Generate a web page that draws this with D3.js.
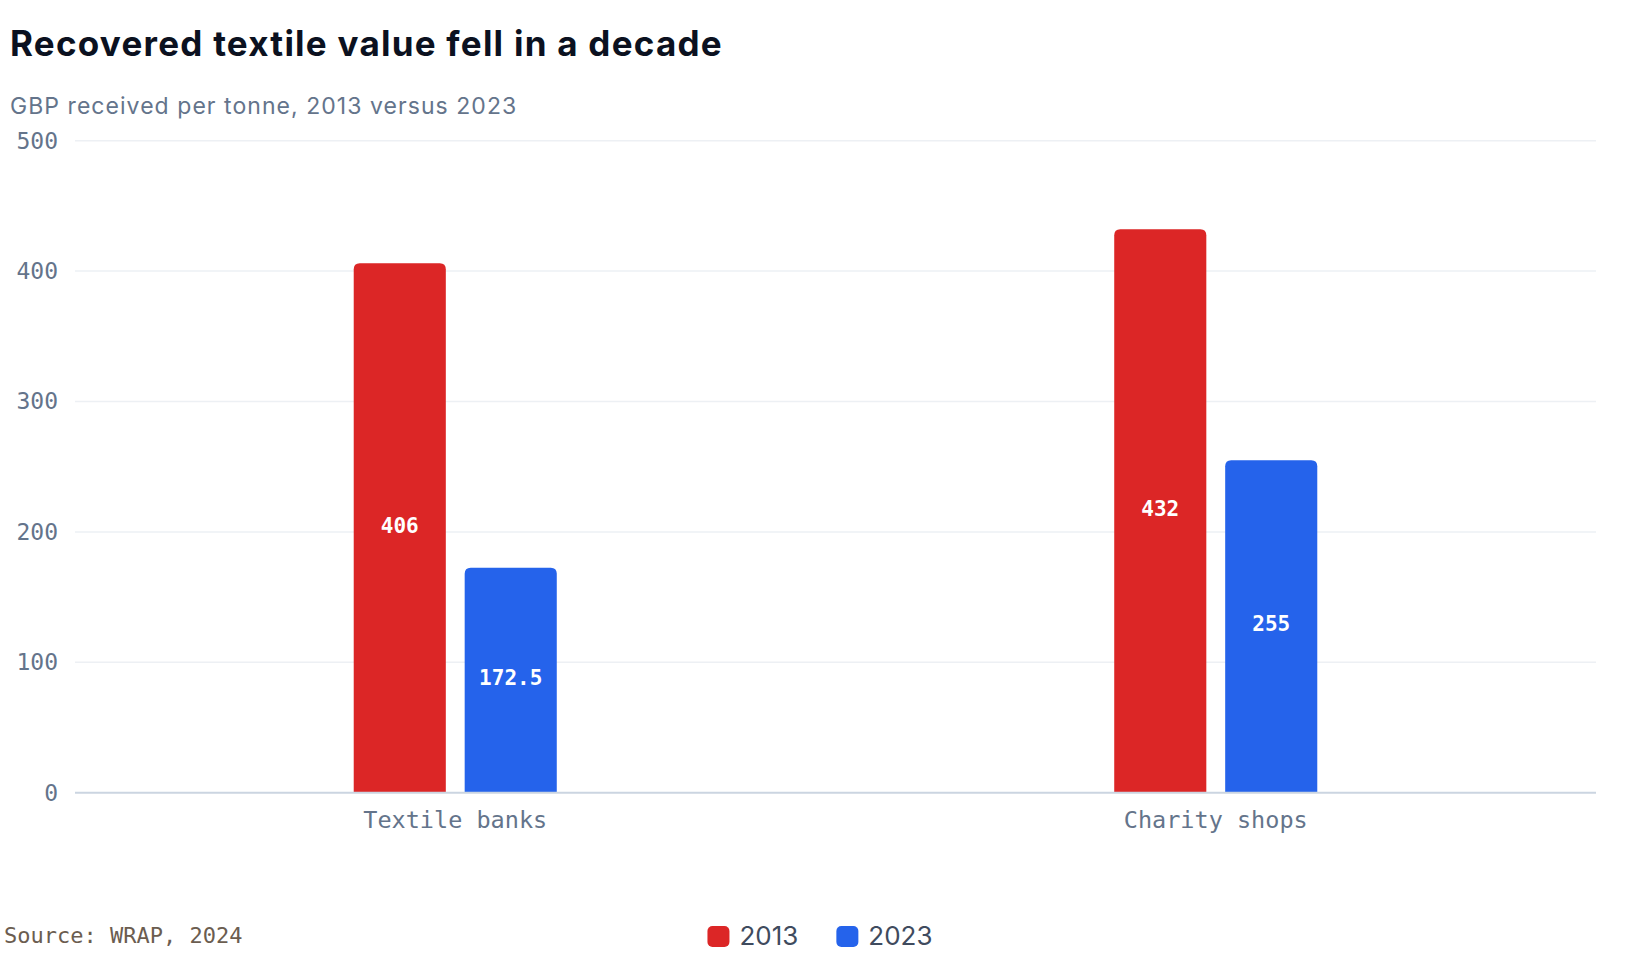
<!DOCTYPE html>
<html>
<head>
<meta charset="utf-8">
<script src="https://cdn.jsdelivr.net/npm/d3@7"></script>
<style>
  html, body { margin: 0; padding: 0; background: #ffffff; }
  svg { display: block; }
</style>
</head>
<body>
<svg id="chart" width="1640" height="960"></svg>
<script>
const categories = ["Textile banks", "Charity shops"];
const seriesNames = ["2013", "2023"];
const values2013 = [406, 432];
const values2023 = [172.5, 255];
const yTicks = [0, 100, 200, 300, 400, 500];
const colors = ["#dc2626", "#2563eb"];

const titleText = "Recovered textile value fell in a decade";
const subtitleText = "GBP received per tonne, 2013 versus 2023";
const sourceText = "Source: WRAP, 2024";

const W = 1640, H = 960;
const margin = { left: 75, right: 44, top: 140.7, bottom: 167.3 };
const svg = d3.select("#chart");

const seriesValues = [values2013, values2023];
const data = categories.map((c, i) => ({
  category: c,
  values: seriesNames.map((s, j) => ({ series: s, value: seriesValues[j][i], color: colors[j] }))
}));

const x0 = d3.scaleBand().domain(categories)
  .range([margin.left, W - margin.right]).paddingInner(0.733).paddingOuter(0.3665);
const x1 = d3.scaleBand().domain(seriesNames).range([0, x0.bandwidth()]).paddingInner(0.17);
const y = d3.scaleLinear().domain([0, 500]).range([H - margin.bottom, margin.top]);

// Title & subtitle
svg.append("text").attr("x", 10).attr("y", 56)
  .attr("font-family", "Inter, 'Noto Sans', sans-serif").attr("font-weight", 700)
  .attr("font-size", 35).attr("fill", "#0b1120").attr("letter-spacing", "1.25")
  .text(titleText);
svg.append("text").attr("x", 10).attr("y", 114)
  .attr("font-family", "Inter, 'Noto Sans', sans-serif").attr("font-weight", 400)
  .attr("font-size", 23).attr("fill", "#64748b").attr("letter-spacing", "1.05")
  .text(subtitleText);

// Gridlines
const grid = svg.append("g");
grid.selectAll("line").data(yTicks.filter(d => d !== 0)).join("line")
  .attr("x1", margin.left).attr("x2", W - margin.right)
  .attr("y1", d => y(d)).attr("y2", d => y(d))
  .attr("stroke", "#edf0f4").attr("stroke-width", 1.5);

// Y axis labels
const yAxis = d3.axisLeft(y).tickValues(yTicks).tickSize(0).tickPadding(17);
const yg = svg.append("g").attr("transform", `translate(${margin.left},0)`).call(yAxis);
yg.select(".domain").remove();
yg.selectAll("text").attr("font-family", "'DejaVu Sans Mono', monospace")
  .attr("font-size", 23).attr("fill", "#64748b");

// Bars
const radius = 6;
function topRounded(x, yTop, w, yBot, r) {
  const h = yBot - yTop;
  r = Math.min(r, h, w / 2);
  return `M${x},${yBot}V${yTop + r}Q${x},${yTop} ${x + r},${yTop}H${x + w - r}Q${x + w},${yTop} ${x + w},${yTop + r}V${yBot}Z`;
}
const groups = svg.append("g").selectAll("g").data(data).join("g")
  .attr("transform", d => `translate(${x0(d.category)},0)`);
groups.selectAll("path").data(d => d.values).join("path")
  .attr("d", d => topRounded(x1(d.series), y(d.value), x1.bandwidth(), y(0), radius))
  .attr("fill", d => d.color);
groups.selectAll("text").data(d => d.values).join("text")
  .attr("x", d => x1(d.series) + x1.bandwidth() / 2)
  .attr("y", d => (y(d.value) + y(0)) / 2)
  .attr("dy", "0.22em").attr("text-anchor", "middle")
  .attr("font-family", "'DejaVu Sans Mono', monospace").attr("font-weight", 700)
  .attr("font-size", 21).attr("fill", "#ffffff")
  .text(d => d3.format("")(d.value));

// X axis
const xAxis = d3.axisBottom(x0).tickSize(0).tickPadding(19);
const xg = svg.append("g").attr("transform", `translate(0,${y(0)})`).call(xAxis);
xg.select(".domain").attr("stroke", "#cbd5e1").attr("stroke-width", 2)
  .attr("d", `M${margin.left},0H${W - margin.right}`);
xg.selectAll("text").attr("font-family", "'DejaVu Sans Mono', monospace")
  .attr("font-size", 23.5).attr("fill", "#64748b");

// Source
svg.append("text").attr("x", 4).attr("y", 943)
  .attr("font-family", "'DejaVu Sans Mono', monospace").attr("font-size", 22)
  .attr("fill", "#6b5d50").text(sourceText);

// Legend
const legend = svg.append("g");
const items = legend.selectAll("g").data(seriesNames).join("g");
items.append("rect").attr("width", 22).attr("height", 21).attr("rx", 5).attr("y", -19)
  .attr("fill", (d, i) => colors[i]);
items.append("text").attr("x", 32).attr("y", 0)
  .attr("font-family", "Inter, 'Noto Sans', sans-serif").attr("font-size", 26)
  .attr("fill", "#3f4b5e").text(d => d);
let offset = 0;
const gap = 38;
items.each(function() {
  const g = d3.select(this);
  g.attr("transform", `translate(${offset},945)`);
  offset += this.getBBox().width + gap;
});
const totalW = offset - gap;
legend.attr("transform", `translate(${W / 2 - totalW / 2},0)`);
</script>
</body>
</html>
